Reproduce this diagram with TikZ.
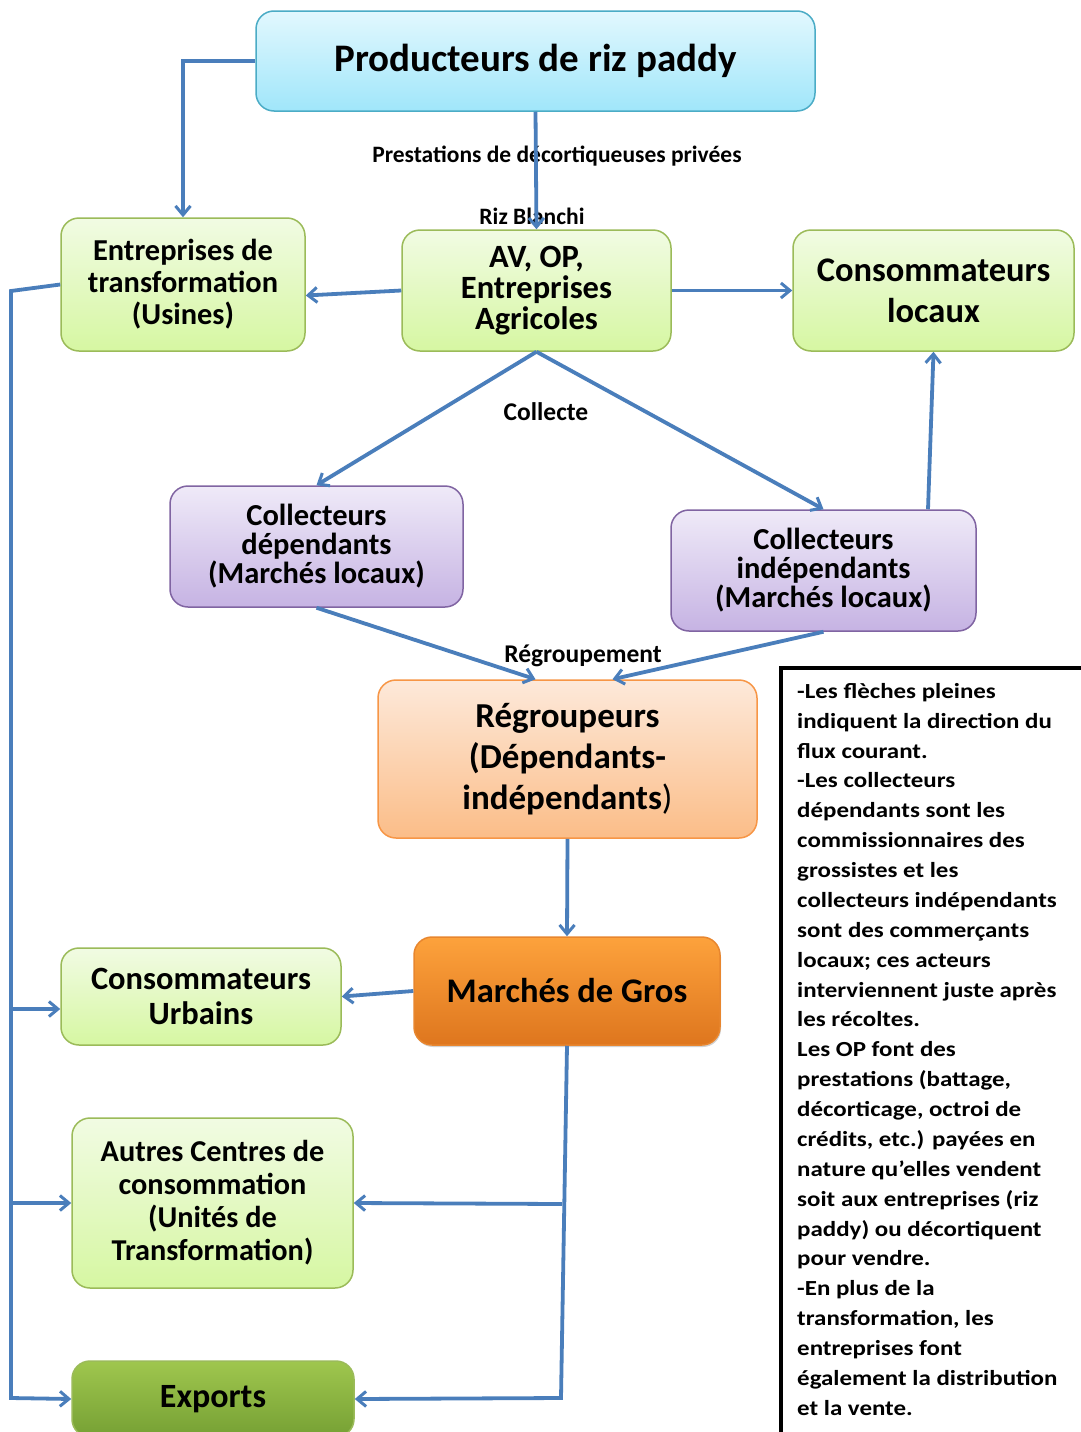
\documentclass[tikz,border=0pt]{standalone}
\usepackage{fontspec}
\setmainfont{Carlito}
\newfontfamily\widefont[FakeStretch=1.16]{Carlito}
\usetikzlibrary{arrows.meta,shadows,calc}
\newcommand\myfs[2]{\fontsize{#1}{#2}\selectfont\bfseries}
\definecolor{LineB}{HTML}{4A7EBB}
\definecolor{CyanT}{HTML}{E2F8FE}
\definecolor{CyanB}{HTML}{A0E6FA}
\definecolor{CyanD}{HTML}{4BACC6}
\definecolor{GreenT}{HTML}{F1FBE3}
\definecolor{GreenB}{HTML}{D6F7A2}
\definecolor{GreenD}{HTML}{9BBB59}
\definecolor{PurT}{HTML}{EFEAF8}
\definecolor{PurB}{HTML}{C6B3E3}
\definecolor{PurD}{HTML}{8064A2}
\definecolor{PeaT}{HTML}{FDE9DA}
\definecolor{PeaB}{HTML}{FBBD88}
\definecolor{PeaD}{HTML}{F79646}
\definecolor{OrT}{HTML}{FDA23C}
\definecolor{OrB}{HTML}{DE761E}
\definecolor{OrD}{HTML}{E8862E}
\definecolor{ExT}{HTML}{9FC64E}
\definecolor{ExB}{HTML}{76A034}
\tikzset{
  box/.style={rounded corners=18pt, align=center, inner sep=0pt, line width=1.5pt},
  cyanbox/.style={box, draw=CyanD, top color=CyanT, bottom color=CyanB},
  greenbox/.style={box, draw=GreenD, top color=GreenT, bottom color=GreenB},
  purbox/.style={box, draw=PurD, top color=PurT, bottom color=PurB},
  peabox/.style={box, draw=PeaD, top color=PeaT, bottom color=PeaB},
  orbox/.style={box, draw=OrD, top color=OrT, bottom color=OrB, drop shadow={shadow xshift=1pt, shadow yshift=-2pt, opacity=0.35}},
  exbox/.style={box, draw=GreenD, top color=ExT, bottom color=ExB},
  arr/.style={draw=LineB, line width=3.8pt, -{Straight Barb[length=9pt,width=15pt,line width=3pt]}},
  lbl/.style={inner sep=0pt, font=\myfs{23.5}{28}},
  lblb/.style={inner sep=0pt, font=\myfs{25.5}{30}},
}
\begin{document}
\begin{tikzpicture}[x=1pt,y=-1pt]
\useasboundingbox[fill=white] (0,0) rectangle (1081,1432);
% nodes
\node[cyanbox, minimum width=559pt, minimum height=100pt, font=\myfs{39}{44}] (prod) at (535.5,61) {\raisebox{-3pt}{Producteurs de riz paddy}};
\node[greenbox, minimum width=244pt, minimum height=133pt, font=\myfs{30.4}{32}] (ent) at (183,284.5) {Entreprises de\\transformation\\(Usines)};
\node[greenbox, minimum width=269pt, minimum height=121pt, font=\myfs{32.5}{31}] (av) at (536.5,290.5) {AV, OP,\\Entreprises\\Agricoles};
\node[greenbox, minimum width=281pt, minimum height=121pt, font=\myfs{34.5}{41}] (cl) at (933.5,290.5) {Consommateurs\\locaux};
\node[purbox, minimum width=293pt, minimum height=121pt, font=\myfs{30.5}{29}] (cd) at (316.5,546.5) {Collecteurs\\dépendants\\(Marchés locaux)};
\node[purbox, minimum width=305pt, minimum height=121pt, font=\myfs{30.5}{29}] (ci) at (823.5,570.5) {Collecteurs\\indépendants\\(Marchés locaux)};
\node[peabox, minimum width=379pt, minimum height=158pt, font=\myfs{35}{41}] (reg) at (567.5,759) {Régroupeurs\\(Dépendants-\\indépendants{\mdseries)}};
\node[orbox, minimum width=306pt, minimum height=108pt, font=\myfs{34.5}{40}] (mg) at (567,991) {Marchés de Gros};
\node[greenbox, minimum width=280pt, minimum height=97pt, font=\myfs{32.5}{35}] (cu) at (201,996.5) {Consommateurs\\Urbains};
\node[greenbox, minimum width=281pt, minimum height=170pt, font=\myfs{30.3}{33}] (ac) at (212.5,1203) {Autres Centres de\\consommation\\(Unités de\\Transformation)};
\node[exbox, minimum width=282pt, minimum height=76pt, font=\myfs{34}{38}] (ex) at (213,1399) {Exports};
% labels
\node[lbl] (l1) at (557,156) {Prestations de décortiqueuses privées};
\node[lbl] (l2) at (532,216) {Riz Blanchi};
\node[lblb] (l3) at (546,412) {Collecte};
\node[lblb] (l4) at (583,656) {Régroupement};
% helper coordinates
\coordinate (lb) at (11,291);
\coordinate (lbot) at (11,1398);
\coordinate (mgm) at (562,1204);
\coordinate (mgb) at (561,1398);
% connectors
\draw[arr] (prod.west) -| (ent.north);
\draw[arr] (prod.south) -- (av.north);
\draw[arr] (av.west) -- ($(ent.east)+(0,11)$);
\draw[arr] (av.east) -- (cl.west);
\draw[arr] (av.south) -- (cd.north);
\draw[arr] (av.south) -- (ci.north);
\draw[arr] ($(ci.north)+(104.5,0)$) -- (cl.south);
\draw[arr] (cd.south) -- ($(reg.north)+(-32,0)$);
\draw[arr] (ci.south) -- ($(reg.north)+(45,0)$);
\draw[arr] (reg.south) -- (mg.north);
\draw[arr] (mg.west) -- (cu.east);
\draw[arr] (mg.south) -- (mgb) -- (ex.east);
\draw[arr] (mgm) -- (ac.east);
\draw[arr] (ent.west) -- (lb) -- (lbot) -- (ex.west);
\draw[arr] (lb |- 0,1009) -- ($(cu.west)+(0,12.5)$);
\draw[arr] (lb |- ac.west) -- (ac.west);
% legend
\draw[line width=4pt] (1095,668) -- (781,668) -- (781,1450);
\node[anchor=north west, align=left, inner sep=0pt, font=\widefont\myfs{21.5}{29.875}] (leg) at (797,683) {-Les flèches pleines\\indiquent la direction du\\flux courant.\\-Les collecteurs\\dépendants sont les\\commissionnaires des\\grossistes et les\\collecteurs indépendants\\sont des commerçants\\locaux; ces acteurs\\interviennent juste après\\les récoltes.\\Les OP font des\\prestations (battage,\\décorticage, octroi de\\crédits, etc.) payées en\\nature qu’elles vendent\\soit aux entreprises (riz\\paddy) ou décortiquent\\pour vendre.\\-En plus de la\\transformation, les\\entreprises font\\également la distribution\\et la vente.};
\end{tikzpicture}
\end{document}
